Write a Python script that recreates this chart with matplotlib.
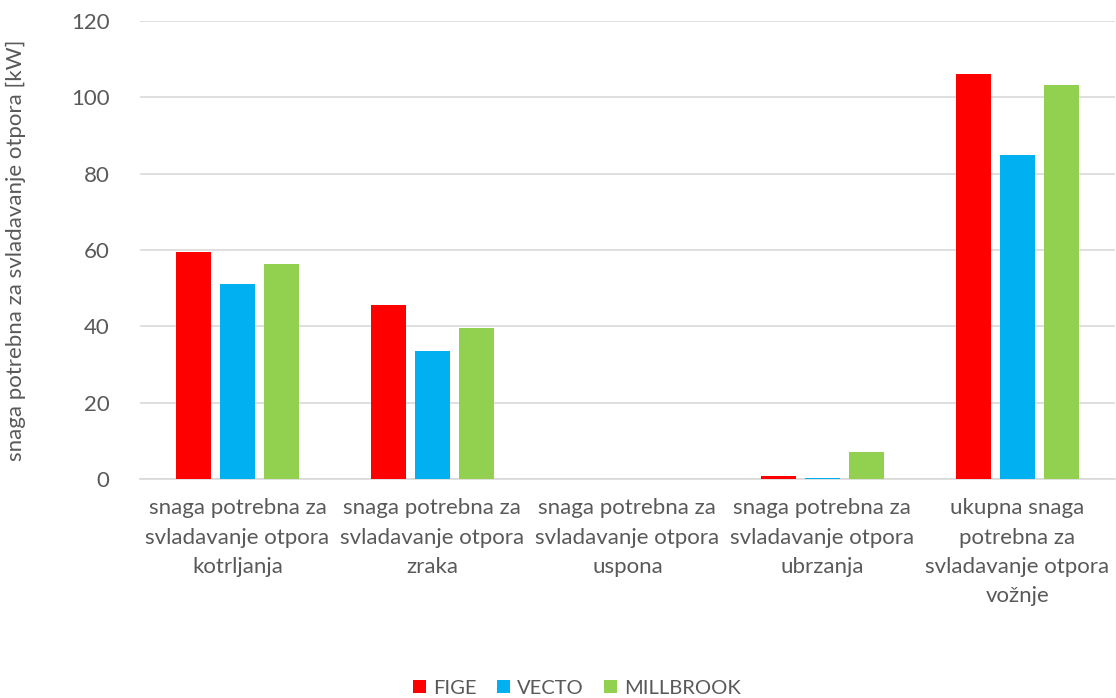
import matplotlib
matplotlib.use("Agg")
import matplotlib.pyplot as plt
import numpy as np

categories = [
    "snaga potrebna za\nsvladavanje otpora\nkotrljanja",
    "snaga potrebna za\nsvladavanje otpora\nzraka",
    "snaga potrebna za\nsvladavanje otpora\nuspona",
    "snaga potrebna za\nsvladavanje otpora\nubrzanja",
    "ukupna snaga\npotrebna za\nsvladavanje otpora\nvožnje",
]
series_names = ["FIGE", "VECTO", "MILLBROOK"]
fige = [59.5, 45.6, 0.0, 0.8, 106.0]
vecto = [51.0, 33.5, 0.0, 0.3, 84.9]
millbrook = [56.4, 39.6, 0.0, 7.1, 103.1]
colors = ["#FF0000", "#00B0F0", "#92D050"]
yticks = [0, 20, 40, 60, 80, 100, 120]

plt.rcParams['font.family'] = ['Lato', 'DejaVu Sans']
text_color = "#595959"

fig = plt.figure(figsize=(11.16, 6.98), dpi=100)
ax = fig.add_axes([0.1254, 0.314, 0.8736, 0.656])

x = np.arange(len(categories))
w = 0.18
step = 0.226
for i, (vals, c, name) in enumerate(zip([fige, vecto, millbrook], colors, series_names)):
    ax.bar(x + (i - 1) * step, vals, width=w, color=c, label=name, zorder=3)

ax.set_xlim(-0.5, len(categories) - 0.5)
ax.set_ylim(0, 120)
ax.set_yticks(yticks)
ax.set_yticklabels([str(t) for t in yticks], fontsize=16, color=text_color)
ax.set_xticks(x)
ax.set_xticklabels(categories, fontsize=16, color=text_color, linespacing=1.58)
ax.tick_params(axis='both', length=0)
ax.tick_params(axis='x', pad=14)
ax.tick_params(axis='y', pad=22)
ax.grid(axis='y', color="#D9D9D9", linewidth=1.2, zorder=0)
for s in ['top', 'right', 'left']:
    ax.spines[s].set_visible(False)
ax.spines['bottom'].set_color("#D9D9D9")
ax.spines['bottom'].set_linewidth(1.2)
ax.set_ylabel("snaga potrebna za svladavanje otpora [kW]", fontsize=16, color=text_color, labelpad=32)

leg = fig.legend(loc='center', bbox_to_anchor=(0.517, 0.014), ncol=3, frameon=False,
                 fontsize=14.5, handlelength=0.65, handleheight=0.65, handletextpad=0.35,
                 columnspacing=1.0)
for t in leg.get_texts():
    t.set_color(text_color)

fig.savefig("out.png", dpi=100)
